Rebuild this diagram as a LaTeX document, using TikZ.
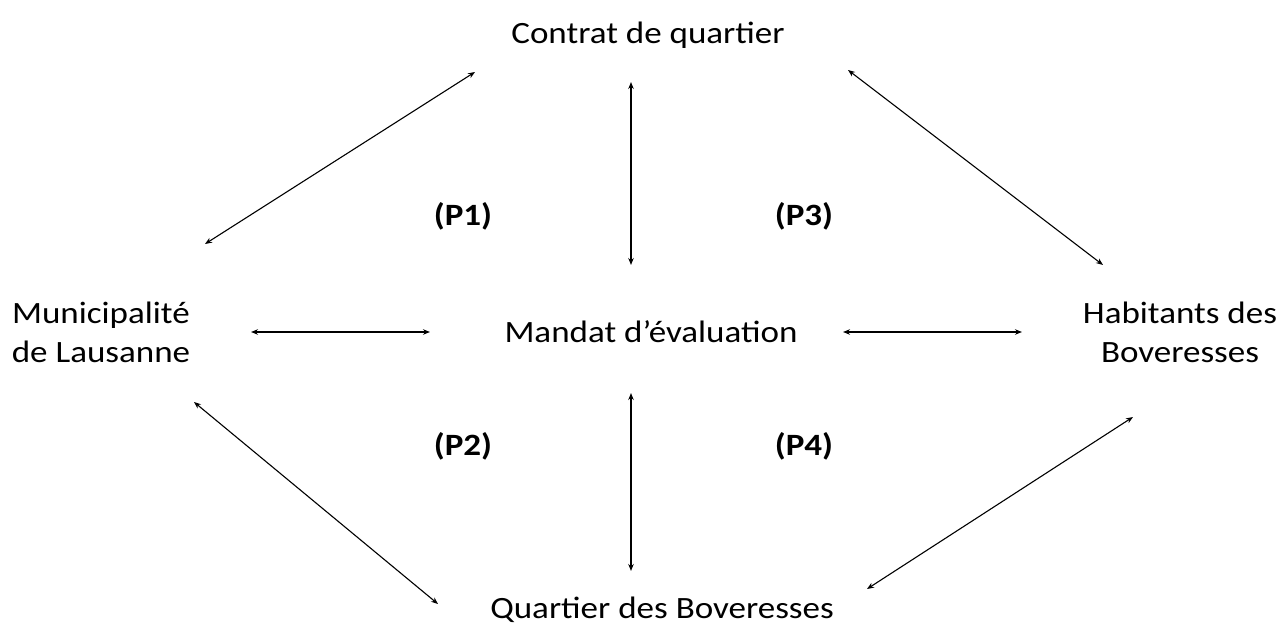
\documentclass[tikz,border=0pt]{standalone}
\usepackage{fontspec}
\setmainfont{Carlito}
\usetikzlibrary{arrows.meta}
\newcommand\wide[1]{\scalebox{1.13}[1]{#1}}
\begin{document}
\begin{tikzpicture}[x=1pt,y=-1pt,
  lbl/.style={font=\fontsize{31}{39}\selectfont, align=center, inner sep=0pt},
  plbl/.style={font=\fontsize{31}{39}\selectfont\bfseries, inner sep=0pt},
  link/.style={line width=1.1pt, {Stealth[length=7pt,width=5.5pt]}-{Stealth[length=7pt,width=5.5pt]}}]
\useasboundingbox (0,0) rectangle (1278,639);
\node[lbl] (contrat) at (648,35) {\wide{Contrat de quartier}};
\node[lbl] (muni) at (101,332) {\wide{Municipalité}\\\wide{de Lausanne}};
\node[lbl] (mandat) at (651,332) {\wide{Mandat d’évaluation}};
\node[lbl] (habit) at (1180,332) {\wide{Habitants des}\\\wide{Boveresses}};
\node[lbl] (quart) at (662,610) {\wide{Quartier des Boveresses}};
\node[plbl] (p1) at (463,216) {\wide{(P1)}};
\node[plbl] (p3) at (804,216) {\wide{(P3)}};
\node[plbl] (p2) at (463,446) {\wide{(P2)}};
\node[plbl] (p4) at (804,446) {\wide{(P4)}};
\coordinate (cm1) at (475,72);  \coordinate (cm2) at (205,244);
\coordinate (cv1) at (631,82);  \coordinate (cv2) at (631,265);
\coordinate (ch1) at (848,70);  \coordinate (ch2) at (1103,265);
\coordinate (mm1) at (251,332); \coordinate (mm2) at (430,332);
\coordinate (mh1) at (843,332); \coordinate (mh2) at (1022,332);
\coordinate (mq1) at (194,402); \coordinate (mq2) at (438,604);
\coordinate (vq1) at (631,393); \coordinate (vq2) at (631,571);
\coordinate (hq1) at (1133,417); \coordinate (hq2) at (867,589);
\draw[link] (cm1) -- (cm2);
\draw[link] (cv1) -- (cv2);
\draw[link] (ch1) -- (ch2);
\draw[link] (mm1) -- (mm2);
\draw[link] (mh1) -- (mh2);
\draw[link] (mq1) -- (mq2);
\draw[link] (vq1) -- (vq2);
\draw[link] (hq1) -- (hq2);
\end{tikzpicture}
\end{document}
